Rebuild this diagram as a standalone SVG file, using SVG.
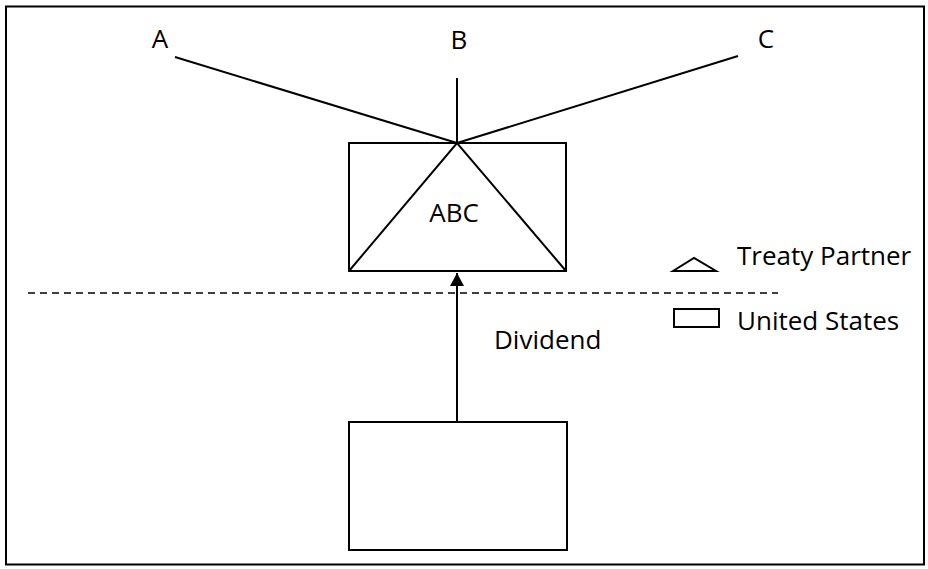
<svg xmlns="http://www.w3.org/2000/svg" width="928" height="569" viewBox="0 0 928 569">
<style>
.ln{stroke:#000;stroke-width:2;fill:none}
.t{font-family:"Open Sans","Liberation Sans",sans-serif;font-size:26px;fill:#000}
</style>
<defs>
<marker id="ah" markerWidth="13" markerHeight="14" refX="13" refY="7" orient="auto" markerUnits="userSpaceOnUse" viewBox="0 0 13 14">
<path d="M0,0 L13,7 L0,14 Z" fill="#000"/>
</marker>
</defs>
<rect x="0" y="0" width="928" height="569" fill="#fff"/>
<rect x="6" y="6.5" width="918" height="558" class="ln"/>
<g id="labelA"><text class="t" x="160" y="48" text-anchor="middle">A</text></g>
<g id="labelB"><text class="t" x="459" y="49" text-anchor="middle">B</text></g>
<g id="labelC"><text class="t" x="766" y="48" text-anchor="middle">C</text></g>
<g id="abc">
<rect x="349" y="143" width="217" height="128" class="ln"/>
<path d="M349,271 L457,143 L566,271" class="ln"/>
<text class="t" x="454" y="222" text-anchor="middle">ABC</text>
</g>
<g id="us">
<rect x="349" y="422" width="218" height="128" class="ln"/>
</g>
<g id="connectors">
<line x1="175" y1="57" x2="457" y2="143" class="ln"/>
<line x1="457" y1="78" x2="457" y2="143" class="ln"/>
<line x1="738" y1="56" x2="457" y2="143" class="ln"/>
<line x1="457" y1="422" x2="457" y2="273" class="ln" marker-end="url(#ah)"/>
<line x1="28" y1="293" x2="778" y2="293" stroke="#000" stroke-width="1.5" stroke-dasharray="7,5"/>
</g>
<g id="dividend"><text class="t" x="494" y="349">Dividend</text></g>
<g id="legend">
<path d="M673,271 L694,258 L716,271 Z" class="ln"/>
<text class="t" x="737" y="265">Treaty Partner</text>
<rect x="674" y="309" width="45" height="18" class="ln"/>
<text class="t" x="737" y="330">United States</text>
</g>
</svg>
